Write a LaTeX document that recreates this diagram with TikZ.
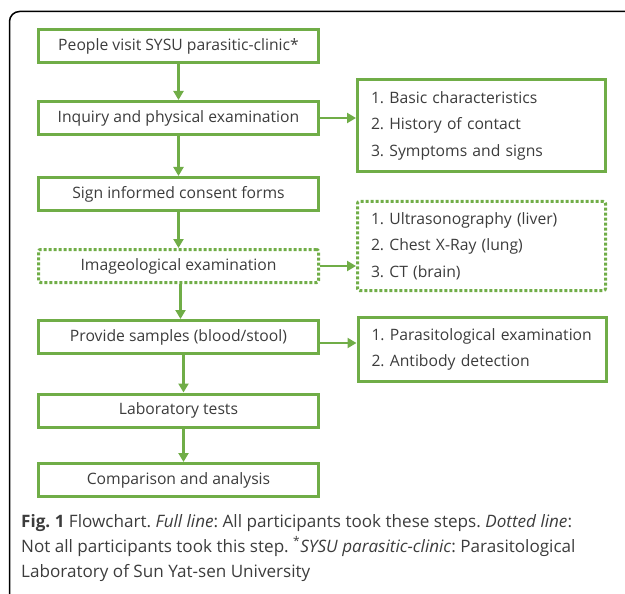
\documentclass[tikz,border=0pt]{standalone}
\usepackage{fontspec}
\setmainfont{Open Sans}
\usetikzlibrary{arrows.meta,positioning}
\definecolor{boxgreen}{RGB}{112,173,71}
\definecolor{txtgray}{RGB}{60,60,60}
\frenchspacing

\begin{document}
\begin{tikzpicture}[x=1pt,y=-1pt,
    every node/.style={font=\fontsize{15.7}{26.5}\selectfont,text=txtgray},
    stepbox/.style={draw=boxgreen,line width=3pt,minimum width=280pt,minimum height=33pt,inner sep=0pt},
    listbox/.style={draw=boxgreen,line width=3pt,align=left,text width=221pt,inner xsep=13.5pt,inner ysep=0pt,minimum width=248pt},
    dotbox/.style={dash pattern=on 3pt off 2pt,rounded corners=2pt},
    arr/.style={draw=boxgreen,line width=2.5pt,-{Triangle[length=9pt,width=10pt]}}
]
\useasboundingbox (0,0) rectangle (625,594);
% frame, only its top left corner is inside the page
\draw[line width=1.5pt,rounded corners=10pt] (9.5,640) |- (640,11.5);

% main steps
\node[stepbox] (visit)   at (178.5,46.5) {People visit SYSU parasitic-clinic*};
\node[stepbox] (inquiry) at (178.5,118)  {Inquiry and physical examination};
\node[stepbox] (consent) at (178.5,194)  {Sign informed consent forms};
\node[stepbox,dotbox] (image) at (178.5,266) {Imageological examination};
\node[stepbox] (sample)  at (178.5,337)  {Provide samples (blood/stool)};
\node[stepbox] (labtest) at (178.5,410.5) {Laboratory tests};
\node[stepbox] (compare) at (178.5,480)  {Comparison and analysis};

% details
\node[listbox,minimum height=92pt] (inqlist) at (481.5,125.5)
  {1. Basic characteristics\\2. History of contact\\3. Symptoms and signs};
\node[listbox,dotbox,minimum height=89pt] (imglist) at (481.5,246)
  {1. Ultrasonography (liver)\\2. Chest X-Ray (lung)\\3. CT (brain)};
\node[listbox,minimum height=64pt] (smplist) at (482,349.5)
  {\mbox{1. Parasitological examination}\\2. Antibody detection};

\draw[arr] (visit) -- (inquiry);
\draw[arr] (inquiry) -- (consent);
\draw[arr] (consent) -- (image);
\draw[arr] ([xshift=2pt]image.south) -- ([xshift=2pt]sample.north);
\draw[arr] ([xshift=5pt]sample.south) -- ([xshift=5pt]labtest.north);
\draw[arr] ([xshift=5pt]labtest.south) -- ([xshift=5pt]compare.north);

\draw[arr] (inquiry.east) -- (inquiry.east -| inqlist.west);
\draw[arr] (image.east) -- (image.east -| imglist.west);
\draw[arr] ([yshift=-6pt]sample.east) -- ([yshift=-6pt]sample.east -| smplist.west);

% caption
\node[anchor=north west,align=left,inner sep=0pt,font=\fontsize{17.1}{25}\selectfont] (caption) at (21,514)
  {\textbf{Fig. 1} Flowchart. \textit{Full line}: All participants took these steps. \textit{Dotted line}:\\
   Not all participants took this step. \textsuperscript{*}\textit{SYSU parasitic-clinic}: Parasitological\\
   Laboratory of Sun Yat-sen University};
\end{tikzpicture}
\end{document}
